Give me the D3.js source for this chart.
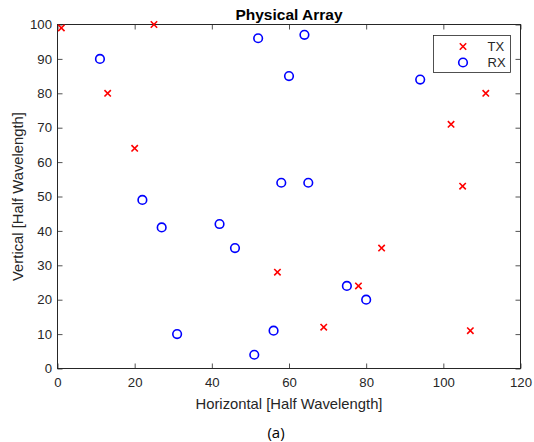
<!DOCTYPE html>
<html><head><meta charset="utf-8">
<script src="https://cdn.jsdelivr.net/npm/d3@7"></script>
<style>body{margin:0;background:#fff}svg{display:block}</style>
</head><body>
<script>
const txX = [1, 25, 13, 20, 111, 102, 105, 57, 78, 84, 69, 107];
const txY = [99, 100, 80, 64, 80, 71, 53, 28, 24, 35, 12, 11];
const rxX = [11, 52, 64, 60, 94, 58, 65, 22, 27, 42, 46, 31, 51, 56, 75, 80];
const rxY = [90, 96, 97, 85, 84, 54, 54, 49, 41, 42, 35, 10, 4, 11, 24, 20];
const xTicks = [0, 20, 40, 60, 80, 100, 120];
const yTicks = [0, 10, 20, 30, 40, 50, 60, 70, 80, 90, 100];
const legendLabels = ["TX", "RX"];

const W = 534, H = 442;
const L = 57.5, R = 520.5, T = 24.5, B = 368.5;
const svg = d3.select("body").append("svg").attr("width", W).attr("height", H);
const x = d3.scaleLinear().domain([0, 120]).range([L, R]);
const y = d3.scaleLinear().domain([0, 100]).range([B, T]);
const axCol = "#262626";
const font = "'Liberation Sans', Arial, sans-serif";

function styleAxis(g, hideText) {
  g.select(".domain").remove();
  g.selectAll("line").attr("stroke", axCol).attr("stroke-width", 0.8);
  g.selectAll("text").attr("fill", axCol).style("font-family", font).style("font-size", "13.2px");
  if (hideText) g.selectAll("text").remove();
}
svg.append("g").attr("transform", `translate(0,${B})`)
  .call(d3.axisBottom(x).tickValues(xTicks).tickSize(-5).tickPadding(9)).call(g => styleAxis(g));
svg.append("g").attr("transform", `translate(0,${T})`)
  .call(d3.axisTop(x).tickValues(xTicks).tickSize(-5)).call(g => styleAxis(g, true));
svg.append("g").attr("transform", `translate(${L},0)`)
  .call(d3.axisLeft(y).tickValues(yTicks).tickSize(-5).tickPadding(5.5)).call(g => styleAxis(g));
svg.append("g").attr("transform", `translate(${R},0)`)
  .call(d3.axisRight(y).tickValues(yTicks).tickSize(-5)).call(g => styleAxis(g, true));

svg.append("rect").attr("x", L).attr("y", T).attr("width", R - L).attr("height", B - T)
  .attr("fill", "none").attr("stroke", axCol).attr("stroke-width", 1);

// markers
const xs = 3.2;
function cross(g, cx, cy) {
  g.append("path").attr("d", `M${cx - xs},${cy - xs}L${cx + xs},${cy + xs}M${cx - xs},${cy + xs}L${cx + xs},${cy - xs}`)
    .attr("stroke", "#ff0000").attr("stroke-width", 1.6).attr("fill", "none");
}
const gTx = svg.append("g");
txX.forEach((v, i) => cross(gTx, x(v), y(txY[i])));
svg.append("g").selectAll("circle").data(rxX).join("circle")
  .attr("cx", d => x(d)).attr("cy", (d, i) => y(rxY[i])).attr("r", 4.3)
  .attr("fill", "none").attr("stroke", "#0000ff").attr("stroke-width", 1.6);

// legend
const lg = svg.append("g");
lg.append("rect").attr("x", 433.5).attr("y", 35.5).attr("width", 77).attr("height", 37)
  .attr("fill", "#fff").attr("stroke", axCol).attr("stroke-width", 0.8);
cross(lg, 463, 46.5);
lg.append("circle").attr("cx", 463).attr("cy", 62.5).attr("r", 4.3)
  .attr("fill", "none").attr("stroke", "#0000ff").attr("stroke-width", 1.6);
lg.selectAll("text").data(legendLabels).join("text")
  .attr("x", 487.5).attr("y", (d, i) => 51.2 + i * 16).text(d => d)
  .attr("fill", axCol).style("font-family", font).style("font-size", "13px");

// title & labels
svg.append("text").attr("x", (L + R) / 2).attr("y", 19.5).attr("text-anchor", "middle")
  .text("Physical Array").style("font-family", font).style("font-size", "15.5px").style("font-weight", "bold").attr("fill", "#000");
svg.append("text").attr("x", (L + R) / 2).attr("y", 409).attr("text-anchor", "middle")
  .text("Horizontal [Half Wavelength]").style("font-family", font).style("font-size", "14.8px").attr("fill", axCol);
svg.append("text").attr("transform", `translate(23,${(T + B) / 2}) rotate(-90)`).attr("text-anchor", "middle")
  .text("Vertical [Half Wavelength]").style("font-family", font).style("font-size", "14.8px").attr("fill", axCol);
svg.append("text").attr("x", 276).attr("y", 438).attr("text-anchor", "middle")
  .text("(a)").style("font-family", "'Open Sans', 'Noto Sans', sans-serif").style("font-size", "15px").attr("fill", "#000");
</script>
</body></html>
